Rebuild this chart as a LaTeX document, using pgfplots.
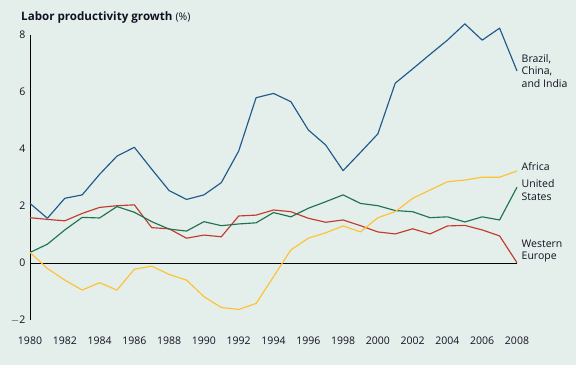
\documentclass[border=0pt]{standalone}
\usepackage{pgfplots}
\pgfplotsset{compat=1.18}
\usepackage{fontspec}
\setmainfont{Open Sans}
\definecolor{bgc}{HTML}{E4EEEA}
\definecolor{cblue}{HTML}{1F5A8C}
\definecolor{cgreen}{HTML}{1E7352}
\definecolor{cred}{HTML}{C23B2C}
\definecolor{cyellow}{HTML}{FDC232}
\definecolor{ctext}{HTML}{111122}
\begin{document}
\begin{tikzpicture}[x=1pt,y=1pt]
\fill[bgc] (-30,-45) rectangle (546,320);
\useasboundingbox (-30,-45) rectangle (546,320);
\begin{axis}[
  at={(0,0)}, anchor=south west,
  scale only axis, width=487pt, height=285pt,
  xmin=1980, xmax=2008, ymin=-2, ymax=8,
  axis lines*=left,
  x axis line style={draw=none},
  y axis line style={-, black, line width=0.8pt},
  major tick length=0pt,
  xtick={1980,1982,...,2008},
  xticklabel style={font=\fontsize{10.5}{12}\selectfont, text=ctext, anchor=base, yshift=-24pt, /pgf/number format/1000 sep={}},
  ytick={-2,0,2,4,6,8},
  yticklabels={$-$2,0,2,4,6,8},
  yticklabel style={font=\fontsize{10.5}{12}\selectfont, text=ctext, xshift=-1pt},
  clip=false,
  /pgf/number format/assume math mode=true,
  every axis plot/.append style={line width=1.15pt, line join=round},
]
\draw[black, line width=0.8pt] (axis cs:1980,0) -- (axis cs:2008,0);
% Western Europe
\addplot[cred] coordinates {
(1980,1.59)(1981,1.53)(1982,1.48)(1983,1.74)(1984,1.95)(1985,2.01)(1986,2.04)(1987,1.24)(1988,1.20)(1989,0.87)
(1990,0.98)(1991,0.92)(1992,1.65)(1993,1.68)(1994,1.86)(1995,1.80)(1996,1.57)(1997,1.43)(1998,1.51)(1999,1.31)
(2000,1.09)(2001,1.02)(2002,1.20)(2003,1.02)(2004,1.30)(2005,1.32)(2006,1.16)(2007,0.95)(2008,0.01)};
% United States
\addplot[cgreen] coordinates {
(1980,0.37)(1981,0.66)(1982,1.16)(1983,1.60)(1984,1.58)(1985,1.98)(1986,1.78)(1987,1.45)(1988,1.19)(1989,1.12)
(1990,1.45)(1991,1.31)(1992,1.37)(1993,1.41)(1994,1.77)(1995,1.62)(1996,1.92)(1997,2.15)(1998,2.39)(1999,2.09)
(2000,2.01)(2001,1.84)(2002,1.80)(2003,1.59)(2004,1.62)(2005,1.44)(2006,1.62)(2007,1.51)(2008,2.66)};
% Africa
\addplot[cyellow] coordinates {
(1980,0.37)(1981,-0.19)(1982,-0.60)(1983,-0.95)(1984,-0.69)(1985,-0.95)(1986,-0.22)(1987,-0.11)(1988,-0.40)(1989,-0.60)
(1990,-1.18)(1991,-1.56)(1992,-1.63)(1993,-1.42)(1994,-0.48)(1995,0.46)(1996,0.87)(1997,1.06)(1998,1.30)(1999,1.09)
(2000,1.59)(2001,1.80)(2002,2.27)(2003,2.56)(2004,2.85)(2005,2.91)(2006,3.01)(2007,3.01)(2008,3.23)};
% Brazil, China, India
\addplot[cblue] coordinates {
(1980,2.09)(1981,1.57)(1982,2.27)(1983,2.39)(1984,3.11)(1985,3.75)(1986,4.06)(1987,3.29)(1988,2.54)(1989,2.23)
(1990,2.39)(1991,2.82)(1992,3.93)(1993,5.80)(1994,5.95)(1995,5.66)(1996,4.67)(1997,4.14)(1998,3.24)(1999,3.88)
(2000,4.53)(2001,6.31)(2002,6.81)(2003,7.32)(2004,7.82)(2005,8.39)(2006,7.82)(2007,8.24)(2008,6.74)};
\end{axis}
\begin{scope}[every node/.style={font=\fontsize{10.5}{12}\selectfont, text=ctext, anchor=base west, inner sep=0pt}]
\node at (491.5,257.7) {Brazil,};
\node at (491.5,245.2) {China,};
\node at (491.5,232.7) {and India};
\node at (491.5,149.3) {Africa};
\node at (491.5,132.7) {United};
\node at (491.5,119.8) {States};
\node at (491.5,72.7) {Western};
\node at (491.5,60.2) {Europe};
\end{scope}
\node[anchor=base west, inner sep=0pt, text=ctext] at (-9,299.3) {\fontsize{11.6}{13}\selectfont\textbf{Labor productivity growth} \fontsize{10.5}{12}\selectfont(\%)};
\end{tikzpicture}
\end{document}
